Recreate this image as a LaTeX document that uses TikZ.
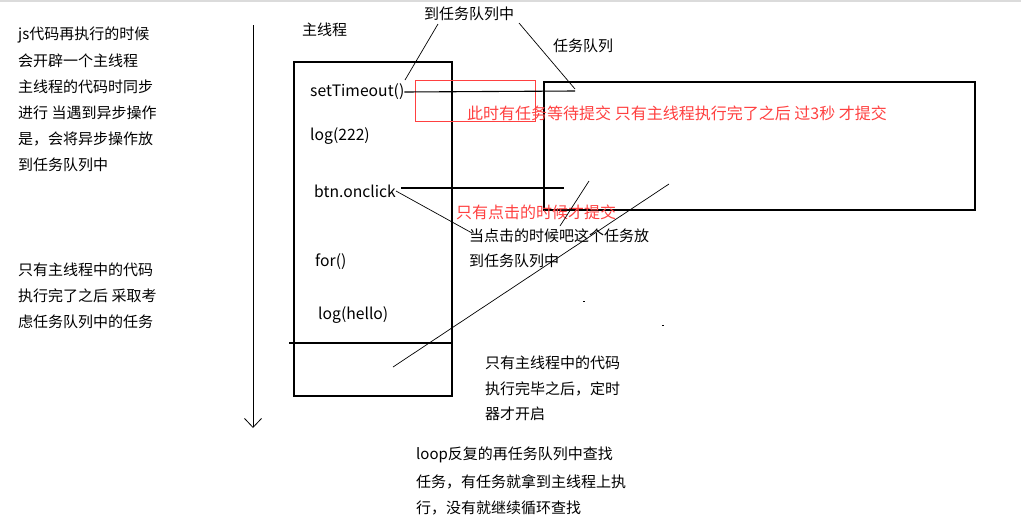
\documentclass[tikz,border=0pt]{standalone}
\usepackage{fontspec}
\setmainfont{Noto Sans CJK SC}
\usetikzlibrary{arrows.meta}
\definecolor{myred}{RGB}{255,64,64}
\begin{document}
\begin{tikzpicture}[x=1pt,y=-1pt,
  txt/.style={anchor=west,inner sep=0pt,font=\fontsize{15}{15}\selectfont,text=black},
  code/.style={anchor=west,inner sep=0pt,font=\fontsize{15.7}{15.7}\selectfont,text=black},
  redtxt/.style={anchor=west,inner sep=0pt,font=\fontsize{16}{16}\selectfont,text=myred},
  box/.style={draw=black,line width=1.1pt},
  thin/.style={draw=black,line width=0.7pt}]
\useasboundingbox (0,0) rectangle (1021,528);
\fill[black!14] (0,0) rectangle (1021,2);
% left texts
\node[txt] (l1) at (18,35) {js代码再执行的时候};
\node[txt] (l2) at (18,61) {会开辟一个主线程};
\node[txt] (l3) at (18,87) {主线程的代码时同步};
\node[txt] (l4) at (18,113) {进行 当遇到异步操作};
\node[txt] (l5) at (18,139) {是，会将异步操作放};
\node[txt] (l6) at (18,165) {到任务队列中};
\node[txt] (m1) at (18,270) {只有主线程中的代码};
\node[txt] (m2) at (18,296) {执行完了之后 采取考};
\node[txt] (m3) at (18,322) {虑任务队列中的任务};
% time arrow
\coordinate (ta) at (253,25);
\coordinate (tb) at (253,428);
\draw[line width=1pt,-{Straight Barb[length=9pt,width=17pt,line width=0.8pt]}] (ta) -- (tb);
% main thread box
\node[txt] (mt) at (302,30) {主线程};
\node[box,minimum width=158pt,minimum height=334pt,inner sep=0pt] (mainbox) at (373,229) {};
\coordinate (hl1) at (289,343);
\coordinate (hl2) at (452,343);
\draw[box] (hl1) -- (hl2);
\node[code] (st) at (310,92) {setTimeout()};
\node[code] (lg) at (310,136) {log(222)};
\node[code] (btn) at (314,191) {btn.onclick};
\node[code] (for) at (315,262) {for()};
\node[code] (lh) at (318,315) {log(hello)};
% task queue
\node[txt] (tq) at (553,46) {任务队列};
\node[box,minimum width=431pt,minimum height=128pt,inner sep=0pt] (qbox) at (759.5,146) {};
\node[txt] (dq) at (424,14) {到任务队列中};
% red rect and text
\node[draw=myred,line width=0.9pt,minimum width=120pt,minimum height=41pt,inner sep=0pt] (rr) at (475,101) {};
\node[redtxt] (r1) at (467,113) {此时有任务等待提交 只有主线程执行完了之后 过3秒 才提交};
\node[redtxt] (r2) at (456,212) {只有点击的时候才提交};
% black annotations
\node[txt] (c1) at (469,236) {当点击的时候吧这个任务放};
\node[txt] (c2) at (469,261) {到任务队列中};
\node[txt] (d1) at (485,363) {只有主线程中的代码};
\node[txt] (d2) at (485,389) {执行完毕之后，定时};
\node[txt] (d3) at (485,414) {器才开启};
\node[txt] (e1) at (416,455) {loop反复的再任务队列中查找};
\node[txt] (e2) at (416,482) {任务，有任务就拿到主线程上执};
\node[txt] (e3) at (416,508) {行，没有就继续循环查找};
% connector lines
\coordinate (p1) at (405,80);
\coordinate (p2) at (438,24);
\draw[thin] (p1) -- (p2);
\coordinate (p3) at (519,23);
\coordinate (p4) at (575,89);
\draw[thin] (p3) -- (p4);
\coordinate (p5) at (575,91);
\draw[box] (st.east) -- (p5);
\coordinate (b1) at (401,188);
\coordinate (b2) at (564,188);
\draw[box] (b1) -- (b2);
\coordinate (b3) at (472,233);
\draw[thin] (btn.east) -- (b3);
\coordinate (q1) at (589,181);
\coordinate (q2) at (560,226);
\draw[thin] (q1) -- (q2);
\coordinate (q3) at (669,184);
\coordinate (q4) at (393,367);
\draw[thin] (q3) -- (q4);
\fill[black] (583,300.5) rectangle (584.5,301.5);
\fill[black] (662,324.5) rectangle (663.5,325.5);
\end{tikzpicture}
\end{document}
